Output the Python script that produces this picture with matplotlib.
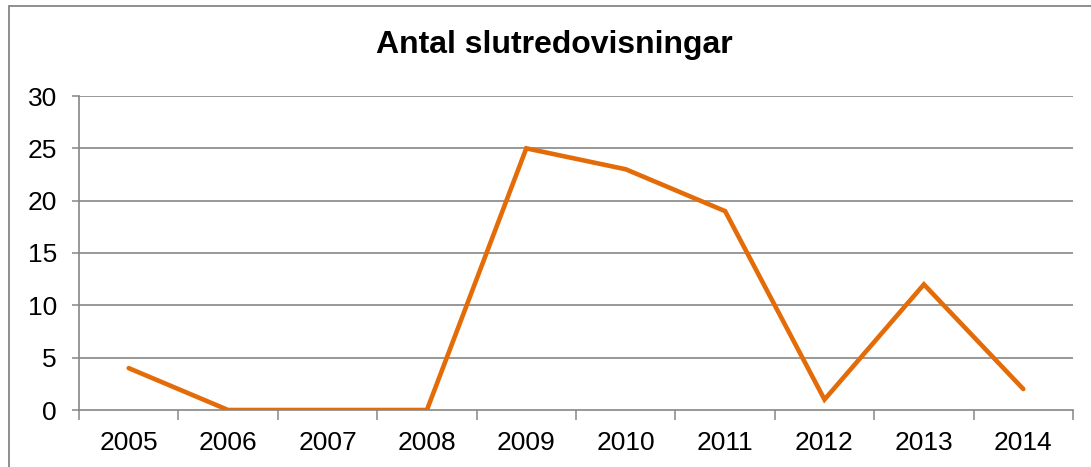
import matplotlib
matplotlib.use("Agg")
import matplotlib.pyplot as plt
from matplotlib.patches import Rectangle
import numpy as np

years = ["2005", "2006", "2007", "2008", "2009", "2010", "2011", "2012", "2013", "2014"]
values = [4, 0, 0, 0, 25, 23, 19, 1, 12, 2]
yticks = [0, 5, 10, 15, 20, 25, 30]
title = "Antal slutredovisningar"

plt.rcParams['font.family'] = ['Liberation Sans', 'DejaVu Sans']
W, H = 1091, 467
fig = plt.figure(figsize=(W / 100, H / 100), dpi=100)
grid_c = "#868686"

# outer chart border
fig.patches.append(Rectangle((9 / W, -0.01), 1.2, 1 - 6 / H + 0.01, transform=fig.transFigure,
                             fill=False, edgecolor=grid_c, linewidth=1.3))

ax = fig.add_axes([79 / W, 1 - 410 / H, (1073 - 79) / W, (410 - 96) / H])
x = np.arange(len(years))
ax.plot(x, values, color="#E36C09", linewidth=3.3, solid_joinstyle="miter", solid_capstyle="round", zorder=3)

ax.set_xlim(-0.5, len(years) - 0.5)
ax.set_ylim(0, 30)
ax.set_yticks(yticks)
ax.set_yticklabels([str(v) for v in yticks])
ax.set_xticks(x)
ax.set_xticklabels(years)
ax.set_xticks(np.arange(-0.5, len(years)), minor=True)
ax.tick_params(axis="x", which="major", length=0, labelsize=19, pad=15)
ax.tick_params(axis="x", which="minor", length=7, width=1.1, color=grid_c, direction="out")
ax.tick_params(axis="y", which="major", length=5, width=1.1, color=grid_c, labelsize=19, pad=11)

for v in yticks[1:]:
    ax.axhline(v, color=grid_c, linewidth=1.2, zorder=1)
for s in ["top", "right"]:
    ax.spines[s].set_visible(False)
for s in ["left", "bottom"]:
    ax.spines[s].set_color(grid_c)
    ax.spines[s].set_linewidth(1.2)

fig.text(554 / W, 1 - 45 / H, title, ha="center", va="center", fontsize=23, fontweight="bold")

fig.savefig("out.png", dpi=100)
